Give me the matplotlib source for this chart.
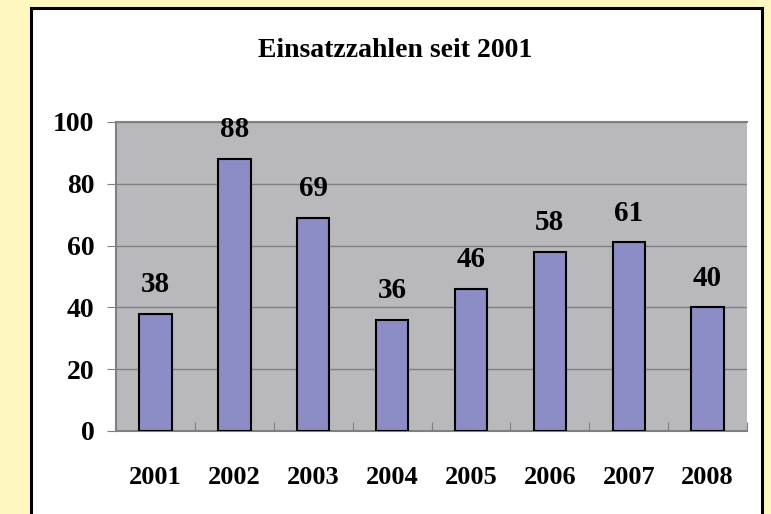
import numpy as np
import matplotlib.pyplot as plt
from matplotlib.patches import Rectangle

plt.rcParams["font.family"] = "Liberation Serif"
plt.rcParams["font.weight"] = "bold"

years = ['2001', '2002', '2003', '2004', '2005', '2006', '2007', '2008']
einsaetze = [38, 88, 69, 36, 46, 58, 61, 40]

fig = plt.figure(figsize=(7.71, 5.14), dpi=100)
fig.patch.set_facecolor('#FFF7BF')
# white chart area with black frame
fig.patches.append(Rectangle((0.0402, -0.02), 0.948, 1.0046, transform=fig.transFigure,
                             facecolor='white', edgecolor='black', linewidth=2.2, zorder=-1))

ax = fig.add_axes([0.1505, 0.1615, 0.8184, 0.6012])
ax.set_zorder(2)
ax.set_facecolor('#B9B9BD')
x = np.arange(len(years))
ax.bar(x, einsaetze, 0.41, color='#8C8CC6', edgecolor='black', linewidth=1.5, zorder=3)
for xi, v in zip(x, einsaetze):
    ax.text(xi, v + 9.5, str(v), ha='center', va='center', fontsize=21, fontweight='bold')

ax.set_xlim(-0.5, len(years) - 0.5)
ax.set_ylim(0, 100)
ax.set_yticks(np.arange(0, 101, 20))
ax.yaxis.grid(True, color='#808080', linewidth=1, zorder=1)
ax.set_axisbelow(True)

# category boundary ticks pointing inwards, labels centred under bars
ax.set_xticks(np.arange(-0.5, len(years), 1), minor=False)
ax.set_xticklabels([])
ax.set_xticks(x, minor=True)
ax.set_xticklabels(years, minor=True, fontsize=19, fontweight='bold')
ax.tick_params(axis='x', which='major', direction='in', length=6.5, color='#808080')
ax.tick_params(axis='x', which='minor', length=0, pad=25)
ax.tick_params(axis='y', direction='out', length=6.5, color='#808080', pad=9, labelsize=20)
for lab in ax.get_yticklabels():
    lab.set_fontweight('bold')

for s in ax.spines.values():
    s.set_color('#808080')
    s.set_linewidth(1.5)
ax.spines['right'].set_visible(False)

fig.text(0.512, 0.901, 'Einsatzzahlen seit 2001', ha='center', va='center', fontsize=20, fontweight='bold')

plt.savefig('out.png', dpi=100, facecolor=fig.get_facecolor())
